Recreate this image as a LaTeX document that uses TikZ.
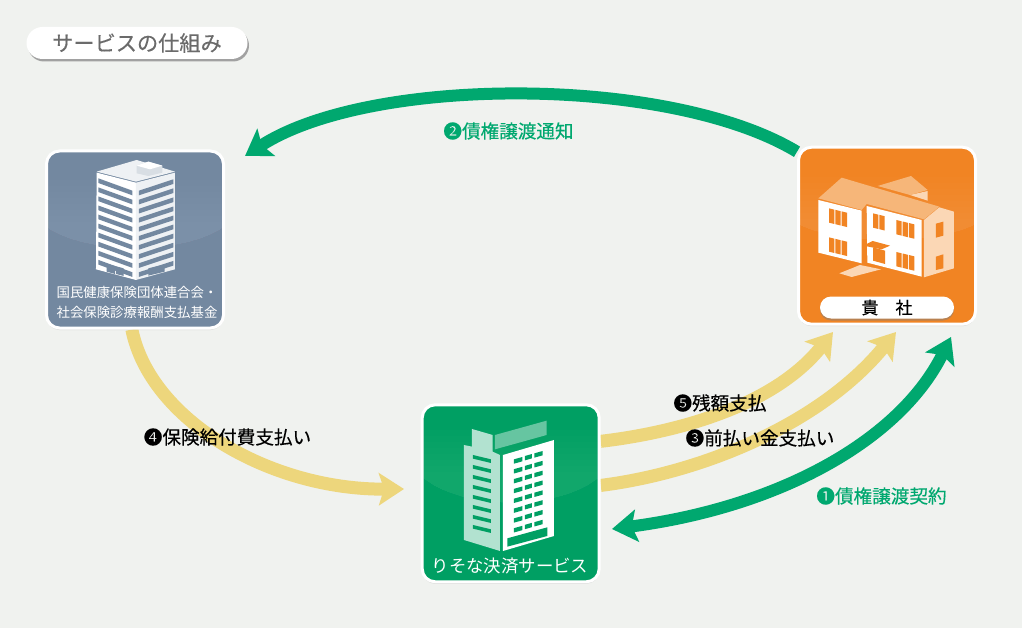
\documentclass[tikz,border=0pt]{standalone}
\usepackage{fontspec}
\setmainfont{Noto Sans CJK JP}
\newfontfamily\heavyfont[FakeBold=0.35]{Noto Sans CJK JP}
\usetikzlibrary{arrows.meta,shadows,backgrounds}

\definecolor{paper}{HTML}{F0F2EF}
\definecolor{arrowgreen}{HTML}{00A86F}
\definecolor{boxgreen}{HTML}{009F63}
\definecolor{boxorange}{HTML}{F18423}
\definecolor{boxslate}{HTML}{7388A0}
\definecolor{arrowyellow}{HTML}{EDD67C}
\definecolor{rooftone}{HTML}{F6B679}
\definecolor{sidetone}{HTML}{FBD7B5}

\newcommand\glowband[4]{% left, right, edge height, dip
  \foreach \i in {1,...,8}{
    \fill[white,opacity=.011] (#1,{#3-6*\i}) -- (#2,{#3-6*\i}) -- (#2,#3)
      .. controls ({#2-40},{#3+#4}) and ({#1+40},{#3+#4}) .. (#1,#3) -- cycle;
  }
}

\tikzset{
  panel/.style={rectangle,draw=white,line width=3pt,rounded corners=13pt,minimum width=177pt,
    minimum height=177pt,drop shadow={opacity=.22,shadow xshift=0pt,shadow yshift=-2pt}},
  green arrow/.style={draw=arrowgreen,line width=12pt},
  yellow arrow/.style={draw=arrowyellow,line width=13pt},
  big tip/.tip={Stealth[length=25pt,width=32pt,inset=5pt]},
  step label/.style={font=\heavyfont\fontsize{18.6}{20}\selectfont,inner sep=0pt},
  panel label/.style={text=white,inner sep=0pt,align=center}
}

\begin{document}
\begin{tikzpicture}[x=1pt,y=-1pt]

  \node[panel,fill=boxslate]  (fund) at (135,239.5) {};
  \node[panel,fill=boxorange] (company) at (887,235.7) {};
  \node[panel,fill=boxgreen]  (service) at (510.7,493.3) {};

  \coordinate (tip2) at (245,156);
  \coordinate (tip4) at (404,489);
  \coordinate (tip5) at (833,332);
  \coordinate (tip3) at (896,332);
  \coordinate (tip1a) at (951,337);
  \coordinate (tip1b) at (612,529);
  \coordinate (start5) at (service.30);
  \coordinate (start3) at (service.5);

  \begin{scope}[on background layer]
    \fill[paper] (0,0) rectangle (1022,628);
    \draw[green arrow,-{big tip}] (company.137) .. controls (670,75) and (370,75) .. (tip2);
    \draw[yellow arrow,-{big tip}] (fund.-92) .. controls (150,420) and (270,490) .. (tip4);
    \draw[yellow arrow,-{big tip}] (start5) .. controls (680,432) and (775,405) .. (tip5);
    \draw[yellow arrow,-{big tip}] (start3) .. controls (700,473) and (820,425) .. (tip3);
    \draw[green arrow,{big tip}-{big tip}] (tip1b) .. controls (780,507) and (900,440) .. (tip1a);
  \end{scope}

  % lighter band behind each building
  \glowband{47.5}{222.5}{228}{27}
  \glowband{799.5}{974.5}{225}{20}
  \glowband{423}{598.5}{478}{33}

  % tower of the fund
  \begin{scope}[x=.3333pt,y=-.3333pt]
    \fill[white!88!boxslate] (290,515) -- (410,480) -- (525,515) -- (408,545) -- cycle;
    \fill[white] (290,518) -- (408,548) -- (408,840) -- (288,808) -- cycle;
    \fill[white!88!boxslate] (408,548) -- (525,518) -- (525,808) -- (408,840) -- cycle;
    \fill[white!72!boxslate] (410,497) -- (445,485) -- (487,497) -- (487,518) -- (445,528) -- (410,520) -- cycle;
    \fill[white] (410,497) -- (445,485) -- (487,497) -- (450,508) -- cycle;
    \foreach \i in {0,...,9}{
      \fill[boxslate] (295,{535+27.2*\i}) -- (397,{572+27.2*\i}) -- (397,{586+27.2*\i}) -- (295,{549+27.2*\i}) -- cycle;
      \fill[boxslate] (417,{572+27.2*\i}) -- (520,{538+27.2*\i}) -- (520,{552+27.2*\i}) -- (417,{586+27.2*\i}) -- cycle;
    }
    \fill[boxslate] (320,792) -- (345,798) -- (345,822) -- (320,815) -- cycle;
    \fill[boxslate] (348,799) -- (371,805) -- (371,828) -- (348,822) -- cycle;
    \fill[boxslate] (445,805) -- (494,793) -- (494,815) -- (445,827) -- cycle;
  \end{scope}

  % house of the company
  \begin{scope}[shift={(780,130)},x=.3333pt,y=-.3333pt]
    \fill[rooftone] (293,168) -- (393,138) -- (443,180) -- (390,195) -- cycle;
    \fill[sidetone] (390,195) -- (443,183) -- (443,212) -- cycle;
    \fill[rooftone] (115,205) -- (185,143) -- (478,230) -- (432,268) -- (260,222) -- (245,240) -- cycle;
    \fill[white] (115,210) -- (245,242) -- (245,400) -- (115,368) -- cycle;
    \fill[white] (260,228) -- (425,270) -- (425,440) -- (262,398) -- cycle;
    \fill[sidetone] (432,270) -- (478,232) -- (522,245) -- (522,415) -- (432,442) -- cycle;
    \fill[sidetone] (178,430) -- (240,405) -- (303,418) -- (215,441) -- cycle;
    \foreach \x/\y/\n in {147/235/3,147/322/3,349/270/3,349/366/3,279/250/2}{
      \foreach \k in {1,...,\n}{
        \fill[boxorange] ({\x+(\k-1)*19},{\y+(\k-1)*4.6}) -- ({\x+(\k-1)*19+16},{\y+(\k-1)*4.6+4}) --
          ({\x+(\k-1)*19+16},{\y+(\k-1)*4.6+47}) -- ({\x+(\k-1)*19},{\y+(\k-1)*4.6+43}) -- cycle;
      }
    }
    \fill[boxorange] (279,352) -- (315,362) -- (315,402) -- (279,392) -- cycle;
    \fill[boxorange] (250,347) -- (278,333) -- (330,347) -- (305,358) -- cycle;
    \fill[boxorange] (468,281) -- (490,275) -- (490,317) -- (468,323) -- cycle;
    \fill[boxorange] (468,380) -- (490,373) -- (490,415) -- (468,420) -- cycle;
  \end{scope}

  % tower of the service
  \begin{scope}[shift={(400,390)},x=.3333pt,y=-.3333pt]
    \fill[white!70!boxgreen] (192,165) -- (216,170) -- (216,117) -- (278,135) -- (278,185)
      -- (300,195) -- (300,483) -- (192,450) -- cycle;
    \fill[white!40!boxgreen] (285,135) -- (440,92) -- (440,135) -- (285,178) -- cycle;
    \fill[white] (309,195) -- (462,150) -- (462,438) -- (309,483) -- cycle;
    \foreach \i in {0,...,7}{
      \fill[boxgreen] (219,{195+30*\i}) -- (273,{208+30*\i}) -- (273,{219+30*\i}) -- (219,{206+30*\i}) -- cycle;
      \fill[boxgreen] (342,{208+29.5*\i}) -- (367,{201+29.5*\i}) -- (367,{214+29.5*\i}) -- (342,{221+29.5*\i}) -- cycle;
      \fill[boxgreen] (375,{198+29.5*\i}) -- (396,{192+29.5*\i}) -- (396,{205+29.5*\i}) -- (375,{211+29.5*\i}) -- cycle;
      \fill[boxgreen] (403,{190+29.5*\i}) -- (428,{183+29.5*\i}) -- (428,{196+29.5*\i}) -- (403,{203+29.5*\i}) -- cycle;
    }
    \fill[boxgreen] (322,445) -- (442,412) -- (442,438) -- (322,470) -- cycle;
  \end{scope}

  \node[panel label,font=\fontsize{13.4}{20}\selectfont] (fundname) at (137,302)
    {国民健康保険団体連合会・\\社会保険診療報酬支払基金};
  \node[rectangle,fill=white,rounded corners=11pt,minimum width=134pt,minimum height=22pt,inner sep=0pt,
    drop shadow={opacity=.5,shadow xshift=0pt,shadow yshift=-2pt},font=\heavyfont\fontsize{17}{18}\selectfont]
    (companyname) at (887,307.5) {貴　社};
  \node[panel label,font=\fontsize{17.4}{20}\selectfont] (servicename) at (510,566) {りそな決済サービス};

  \node[rectangle,fill=white,rounded corners=16pt,minimum width=221pt,minimum height=32pt,inner sep=0pt,
    text=black!58,font=\heavyfont\fontsize{21.2}{24}\selectfont,drop shadow={opacity=.7,shadow xshift=1.5pt,shadow yshift=-2.5pt}]
    (title) at (137,43) {サービスの仕組み};

  \node[step label,text=arrowgreen] (label2) at (508.5,131) {❷債権譲渡通知};
  \node[step label,text=arrowgreen] (label1) at (881.5,496) {❶債権譲渡契約};
  \node[step label] (label5) at (720,403) {❺残額支払};
  \node[step label] (label3) at (760,438) {❸前払い金支払い};
  \node[step label] (label4) at (227.5,437) {❹保険給付費支払い};

\end{tikzpicture}
\end{document}
